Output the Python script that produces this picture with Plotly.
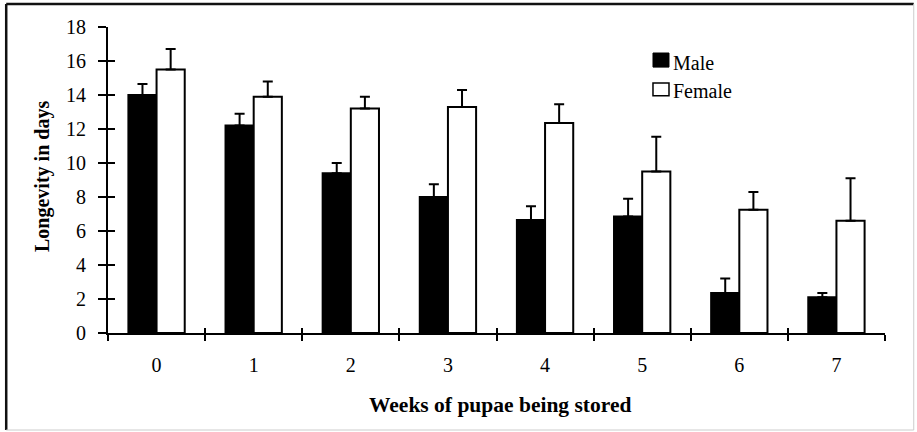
import plotly.graph_objects as go

weeks = ["0", "1", "2", "3", "4", "5", "6", "7"]
male = [14.0, 12.2, 9.4, 8.0, 6.65, 6.85, 2.35, 2.1]
male_err = [0.65, 0.7, 0.6, 0.75, 0.8, 1.05, 0.85, 0.25]
female = [15.5, 13.9, 13.2, 13.3, 12.35, 9.5, 7.25, 6.6]
female_err = [1.2, 0.9, 0.7, 1.0, 1.1, 2.05, 1.05, 2.5]

y_ticks = [0, 2, 4, 6, 8, 10, 12, 14, 16, 18]
series_names = ["Male", "Female"]

FONT = "Liberation Serif"

fig = go.Figure()
fig.add_trace(go.Bar(
    name=series_names[0], x=weeks, y=male,
    marker=dict(color="black", line=dict(color="black", width=2)),
    error_y=dict(type="data", array=male_err, symmetric=False, arrayminus=[0]*8,
                 color="black", thickness=2, width=5),
))
fig.add_trace(go.Bar(
    name=series_names[1], x=weeks, y=female,
    marker=dict(color="white", line=dict(color="black", width=2)),
    error_y=dict(type="data", array=female_err, symmetric=False, arrayminus=[0]*8,
                 color="black", thickness=2, width=5),
))
# invisible helper trace carrying the inner half of the crossing tick marks
fig.add_trace(go.Scatter(x=weeks, y=[0]*8, xaxis="x2", yaxis="y2", mode="markers",
                         marker=dict(opacity=0), showlegend=False, hoverinfo="skip"))

fig.update_layout(
    width=917, height=432,
    margin=dict(l=108, r=32, t=27, b=99),
    paper_bgcolor="white", plot_bgcolor="white",
    barmode="group", bargap=0.42, bargroupgap=0,
    font=dict(family=FONT, color="black", size=20),
    showlegend=False,
    xaxis=dict(type="category", categoryorder="array", categoryarray=weeks,
               tickson="boundaries", ticks="outside", ticklen=6, tickwidth=2,
               tickcolor="black", showline=True, linecolor="black", linewidth=2,
               showgrid=False, zeroline=False, tickfont=dict(size=20, family=FONT),
               ticklabelstandoff=13, range=[-0.5, 7.5]),
    yaxis=dict(range=[0, 18], tickvals=y_ticks, ticks="outside", ticklen=8,
               tickwidth=2, tickcolor="black", showline=True, linecolor="black",
               linewidth=2, showgrid=False, zeroline=False,
               ticklabelstandoff=8, tickfont=dict(size=20, family=FONT)),
    xaxis2=dict(type="category", categoryorder="array", categoryarray=weeks,
                overlaying="x", anchor="y2", side="bottom",
                tickson="boundaries", ticks="inside", ticklen=5, tickwidth=2,
                tickcolor="black", showticklabels=False, showline=False,
                showgrid=False, zeroline=False, range=[-0.5, 7.5]),
    yaxis2=dict(overlaying="y", anchor="x2", side="left", range=[0, 18],
                tickvals=y_ticks, ticks="inside", ticklen=7, tickwidth=2,
                tickcolor="black", showticklabels=False, showline=False,
                showgrid=False, zeroline=False),
    annotations=[
        dict(text="<b>Weeks of pupae being stored</b>", xref="paper", yref="paper",
             x=0.505, y=-0.235, xanchor="center", yanchor="middle", showarrow=False,
             font=dict(size=21.5, family=FONT)),
        dict(text="<b>Longevity in days</b>", xref="paper", yref="paper",
             x=-0.085, y=0.513, xanchor="center", yanchor="middle", showarrow=False,
             textangle=-90, font=dict(size=20, family=FONT)),
        dict(text=series_names[0], xref="paper", yref="paper",
             x=0.7245, y=0.882, xanchor="left", yanchor="middle", align="left",
             showarrow=False, font=dict(size=20, family=FONT)),
        dict(text=series_names[1], xref="paper", yref="paper",
             x=0.7245, y=0.791, xanchor="left", yanchor="middle", align="left",
             showarrow=False, font=dict(size=20, family=FONT)),
    ],
    shapes=[
        # legend keys
        dict(type="rect", xref="paper", yref="paper", x0=0.7014, x1=0.722,
             y0=0.869, y1=0.915, fillcolor="black", line=dict(color="black", width=1)),
        dict(type="rect", xref="paper", yref="paper", x0=0.7014, x1=0.722,
             y0=0.775, y1=0.817, fillcolor="white", line=dict(color="black", width=1.5)),
        # outer frame
        dict(type="line", xref="paper", yref="paper", x0=-0.131, x1=-0.131,
             y0=-0.317, y1=1.075, line=dict(color="#111", width=2.5)),
        dict(type="line", xref="paper", yref="paper", x0=-0.131, x1=1.037,
             y0=1.075, y1=1.075, line=dict(color="#111", width=2.5)),
        dict(type="line", xref="paper", yref="paper", x0=1.037, x1=1.037,
             y0=-0.317, y1=1.075, line=dict(color="#ccc", width=1)),
        dict(type="line", xref="paper", yref="paper", x0=-0.131, x1=1.037,
             y0=-0.317, y1=-0.317, line=dict(color="#ccc", width=1)),
    ],
)

fig.write_html("out.html", config={"displayModeBar": False},
               post_script="document.body.style.margin='0px';")
